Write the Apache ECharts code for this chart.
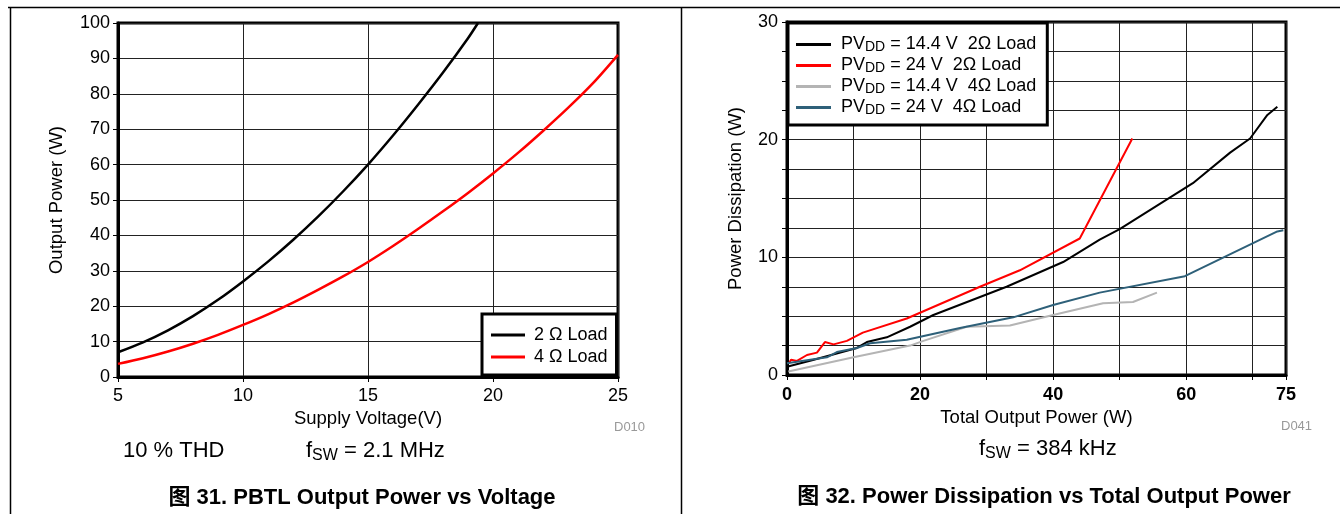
<!DOCTYPE html>
<html>
<head>
<meta charset="utf-8">
<script src="https://cdn.jsdelivr.net/npm/echarts@6/dist/echarts.min.js"></script>
<style>
html,body{margin:0;padding:0;background:#fff;}
#c{width:1340px;height:514px;}
</style>
</head>
<body>
<div id="c"></div>
<script>
// ---- Figure 31 data ----
const volt2 = [5, 6, 7, 8, 9, 10, 11, 12, 13, 14, 15, 16, 17, 18, 19, 19.4];
const pow2 = [7, 9.8, 13.2, 17.2, 21.8, 27, 32.6, 38.7, 45.3, 52.4, 60, 68.2, 76.9, 86, 95.7, 100];
const volt4 = [5, 6, 7, 8, 9, 10, 11, 12, 13, 14, 15, 16, 17, 18, 19, 20, 21, 22, 23, 24, 25];
const pow4 = [3.7, 5.3, 7.2, 9.4, 11.9, 14.7, 17.7, 21, 24.6, 28.4, 32.5, 37, 41.8, 46.8, 52, 57.5, 63.3, 69.5, 76, 83, 91];
const leftNames = ['2 \u03A9 Load', '4 \u03A9 Load'];

// ---- Figure 32 data ----
const blkX = [0, 3.9, 10.5, 12, 15, 18.5, 22, 33, 41.5, 47, 50, 61, 66.6, 69.6, 72.2, 73.7];
const blkY = [0.7, 1.27, 2.3, 2.8, 3.2, 4.1, 5.1, 7.5, 9.6, 11.5, 12.4, 16.3, 18.9, 20.1, 22.1, 22.8];
const redX = [0.3, 0.6, 1.5, 3, 4.5, 5.7, 7, 9, 11.4, 18, 29, 35, 44, 51.9];
const redY = [1.0, 1.3, 1.2, 1.7, 1.9, 2.8, 2.6, 2.9, 3.6, 4.8, 7.5, 8.9, 11.6, 20.1];
const gryX = [0.2, 10, 18.5, 20.5, 27, 33.5, 40, 47.5, 52, 55.6];
const gryY = [0.3, 1.5, 2.5, 2.9, 4.1, 4.2, 5.1, 6.1, 6.2, 7.0];
const tealX = [0, 6, 7.5, 10.5, 12.5, 18, 26, 34, 40, 47, 59.8, 73.7, 74.6];
const tealY = [1.0, 1.5, 1.95, 2.3, 2.7, 3.0, 4.0, 4.9, 5.95, 7.0, 8.4, 12.2, 12.3];
const rightNames = ['14.4 V  2\u03A9 Load', '24 V  2\u03A9 Load', '14.4 V  4\u03A9 Load', '24 V  4\u03A9 Load'];
const rightLabelTicks = [0, 20, 40, 60, 75];

function pairs(xs, ys) { return xs.map((x, i) => [x, ys[i]]); }

const FONT = 'Liberation Sans, Arial, sans-serif';
const CAPFONT = 'bold 22px "Liberation Sans", "Noto Sans CJK SC", sans-serif';
const chart = echarts.init(document.getElementById('c'));

const axisCommon = {
  axisLine: { show: true, onZero: false, lineStyle: { color: '#000', width: 3 } },
  axisTick: { show: true, inside: false, length: 5, lineStyle: { color: '#000', width: 1 } },
  splitLine: { show: true, lineStyle: { color: '#222', width: 1 } },
  nameLocation: 'middle',
  nameTextStyle: { color: '#000', fontSize: 18.5, fontFamily: FONT },
};

const subRich = {
  a: { fontSize: 22, fontFamily: FONT, lineHeight: 24, verticalAlign: 'top' },
  s: { fontSize: 16, fontFamily: FONT, lineHeight: 16, verticalAlign: 'bottom', padding: [9, 0, 0, 0] }
};

chart.setOption({
  animation: false,
  backgroundColor: '#fff',
  grid: [
    { left: 118, top: 23, width: 500, height: 354, show: true, borderColor: '#000', borderWidth: 3, containLabel: false },
    { left: 787, top: 22, width: 499, height: 353, show: true, borderColor: '#000', borderWidth: 3, containLabel: false }
  ],
  xAxis: [
    Object.assign({}, axisCommon, {
      gridIndex: 0, type: 'value', min: 5, max: 25, interval: 5,
      name: 'Supply Voltage(V)', nameGap: 31,
      axisLabel: { color: '#000', fontSize: 18, fontFamily: FONT, margin: 10 }
    }),
    Object.assign({}, axisCommon, {
      gridIndex: 1, type: 'value', min: 0, max: 75, interval: 10,
      name: 'Total Output Power (W)', nameGap: 32,
      axisLabel: {
        color: '#000', fontSize: 18, fontWeight: 'bold', fontFamily: FONT, margin: 11,
        showMaxLabel: true,
        formatter: v => rightLabelTicks.indexOf(v) >= 0 ? String(v) : ''
      }
    })
  ],
  yAxis: [
    Object.assign({}, axisCommon, {
      gridIndex: 0, type: 'value', min: 0, max: 100, interval: 10,
      name: 'Output Power (W)', nameGap: 52,
      axisLabel: { color: '#000', fontSize: 18, fontFamily: FONT, margin: 8 }
    }),
    Object.assign({}, axisCommon, {
      gridIndex: 1, type: 'value', min: 0, max: 30, interval: 2.5,
      name: 'Power Dissipation (W)', nameGap: 42,
      axisLabel: {
        color: '#000', fontSize: 18, fontFamily: FONT, margin: 9,
        formatter: v => (v % 10 === 0) ? String(v) : ''
      }
    })
  ],
  legend: [
    {
      data: leftNames, orient: 'vertical', left: 482, top: 314,
      backgroundColor: '#fff', borderColor: '#000', borderWidth: 3,
      padding: [12, 9, 9, 9], itemGap: 4, itemWidth: 34, itemHeight: 3, icon: 'rect',
      textStyle: { color: '#000', fontSize: 18, fontFamily: FONT, padding: [0, 0, 0, 4] }
    },
    {
      data: rightNames, orient: 'vertical', left: 788, top: 23,
      backgroundColor: '#fff', borderColor: '#000', borderWidth: 3,
      padding: [11, 11, 8, 8], itemGap: 1, itemWidth: 35, itemHeight: 3, icon: 'rect',
      formatter: name => '{a|PV}{s|DD}{a| = ' + name + '}',
      textStyle: {
        color: '#000', fontSize: 18, fontFamily: FONT, padding: [0, 0, 0, 5],
        rich: {
          a: { fontSize: 18, fontFamily: FONT, color: '#000', lineHeight: 19, verticalAlign: 'top' },
          s: { fontSize: 14, fontFamily: FONT, color: '#000', lineHeight: 14, verticalAlign: 'bottom', padding: [6, 0, 0, 0] }
        }
      }
    }
  ],
  series: [
    { name: leftNames[0], type: 'line', xAxisIndex: 0, yAxisIndex: 0, data: pairs(volt2, pow2), showSymbol: false, symbol: 'none', smooth: 0.3, lineStyle: { color: '#000', width: 2.5 }, itemStyle: { color: '#000' } },
    { name: leftNames[1], type: 'line', xAxisIndex: 0, yAxisIndex: 0, data: pairs(volt4, pow4), showSymbol: false, symbol: 'none', smooth: 0.3, lineStyle: { color: '#ff0000', width: 2.5 }, itemStyle: { color: '#ff0000' } },
    { name: rightNames[0], type: 'line', xAxisIndex: 1, yAxisIndex: 1, data: pairs(blkX, blkY), showSymbol: false, symbol: 'none', lineStyle: { color: '#000', width: 2 }, itemStyle: { color: '#000' } },
    { name: rightNames[1], type: 'line', xAxisIndex: 1, yAxisIndex: 1, data: pairs(redX, redY), showSymbol: false, symbol: 'none', lineStyle: { color: '#ff0000', width: 2 }, itemStyle: { color: '#ff0000' } },
    { name: rightNames[2], type: 'line', xAxisIndex: 1, yAxisIndex: 1, data: pairs(gryX, gryY), showSymbol: false, symbol: 'none', lineStyle: { color: '#b4b4b4', width: 2 }, itemStyle: { color: '#b4b4b4' } },
    { name: rightNames[3], type: 'line', xAxisIndex: 1, yAxisIndex: 1, data: pairs(tealX, tealY), showSymbol: false, symbol: 'none', lineStyle: { color: '#2e6079', width: 2 }, itemStyle: { color: '#2e6079' } }
  ],
  graphic: [
    { type: 'line', shape: { x1: 8, y1: 7.5, x2: 1340, y2: 7.5 }, style: { stroke: '#000', lineWidth: 1.5 }, silent: true },
    { type: 'line', shape: { x1: 10.5, y1: 7, x2: 10.5, y2: 514 }, style: { stroke: '#000', lineWidth: 1.5 }, silent: true },
    { type: 'line', shape: { x1: 681.5, y1: 7, x2: 681.5, y2: 514 }, style: { stroke: '#000', lineWidth: 1.5 }, silent: true },
    { type: 'text', left: 614, top: 421, style: { text: 'D010', fill: '#999', font: '13px ' + FONT } },
    { type: 'text', left: 1281, top: 420, style: { text: 'D041', fill: '#999', font: '13px ' + FONT } },
    { type: 'text', left: 123, top: 440, style: { text: '10 % THD', fill: '#000', font: '22px ' + FONT } },
    { type: 'text', left: 306, top: 439, style: { text: '{a|f}{s|SW}{a| = 2.1 MHz}', fill: '#000', font: '22px ' + FONT, rich: subRich } },
    { type: 'text', left: 979, top: 437, style: { text: '{a|f}{s|SW}{a| = 384 kHz}', fill: '#000', font: '22px ' + FONT, rich: subRich } },
    { type: 'text', x: 362, y: 498, style: { text: '\u56FE 31. PBTL Output Power vs Voltage', fill: '#000', font: CAPFONT, textAlign: 'center', textVerticalAlign: 'middle' } },
    { type: 'text', x: 1044, y: 497, style: { text: '\u56FE 32. Power Dissipation vs Total Output Power', fill: '#000', font: CAPFONT, textAlign: 'center', textVerticalAlign: 'middle' } }
  ]
});
</script>
</body>
</html>
